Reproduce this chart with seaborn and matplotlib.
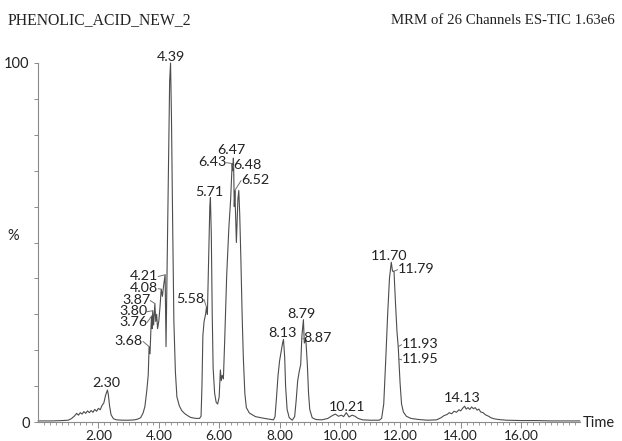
import numpy as np
import pandas as pd
import matplotlib
matplotlib.use("Agg")
import matplotlib.pyplot as plt
import seaborn as sns

# ---- data ----
times = [0.00, 0.50, 0.80, 1.00, 1.10, 1.20, 1.28, 1.34, 1.40, 1.46, 1.52, 1.58, 1.64, 1.70,
         1.76, 1.82, 1.88, 1.94, 2.00, 2.06, 2.12, 2.18, 2.24, 2.30, 2.33, 2.37, 2.42, 2.50,
         2.60, 2.80, 3.00, 3.20, 3.30, 3.40, 3.48, 3.54, 3.60, 3.65, 3.68, 3.71, 3.74, 3.76,
         3.78, 3.80, 3.83, 3.87, 3.90, 3.93, 3.96, 4.00, 4.04, 4.08, 4.12, 4.16, 4.21, 4.24,
         4.27, 4.32, 4.36, 4.39, 4.42, 4.46, 4.50, 4.55, 4.60, 4.68, 4.76, 4.85, 4.95, 5.05,
         5.15, 5.25, 5.35, 5.40, 5.43, 5.46, 5.50, 5.55, 5.58, 5.61, 5.65, 5.69, 5.71, 5.74,
         5.77, 5.80, 5.85, 5.90, 5.95, 6.00, 6.04, 6.07, 6.10, 6.14, 6.18, 6.25, 6.32, 6.38,
         6.43, 6.45, 6.47, 6.48, 6.50, 6.52, 6.57, 6.62, 6.65, 6.68, 6.72, 6.76, 6.80, 6.85,
         6.90, 7.00, 7.20, 7.50, 7.80, 7.85, 7.90, 7.95, 8.00, 8.05, 8.10, 8.13, 8.17, 8.20,
         8.25, 8.32, 8.42, 8.50, 8.55, 8.60, 8.65, 8.70, 8.74, 8.79, 8.82, 8.87, 8.92, 8.96,
         9.00, 9.08, 9.20, 9.40, 9.60, 9.75, 9.85, 9.95, 10.05, 10.12, 10.21, 10.30, 10.40,
         10.50, 10.60, 10.75, 11.00, 11.30, 11.38, 11.45, 11.52, 11.58, 11.64, 11.70, 11.74,
         11.79, 11.84, 11.89, 11.93, 11.95, 11.99, 12.04, 12.10, 12.20, 12.35, 12.60, 12.90,
         13.20, 13.35, 13.45, 13.55, 13.62, 13.70, 13.78, 13.86, 13.94, 14.00, 14.06, 14.13,
         14.18, 14.24, 14.30, 14.36, 14.42, 14.48, 14.54, 14.60, 14.66, 14.74, 14.82, 14.90,
         15.00, 15.10, 15.25, 15.50, 16.00, 16.50, 17.00, 17.50, 17.95]
intensity = [0.3, 0.3, 0.4, 0.5, 0.9, 1.6, 2.4, 1.9, 2.6, 2.2, 2.9, 2.4, 3.1, 2.6,
             3.2, 2.7, 3.5, 3.0, 3.8, 3.4, 4.6, 5.3, 7.5, 8.9, 7.6, 4.5, 2.0, 0.9,
             0.6, 0.5, 0.5, 0.6, 0.8, 1.2, 2.5, 4.3, 8.5, 13.0, 21.0, 19.0, 26.0, 29.5,
             26.0, 31.0, 27.0, 33.0, 28.0, 30.0, 26.0, 28.0, 32.0, 37.0, 35.0, 38.0, 41.0, 21.0,
             40.0, 70.0, 95.0, 100.0, 85.0, 55.0, 28.0, 14.0, 7.0, 4.5, 3.2, 2.4, 1.8, 1.3,
             1.1, 1.0, 1.0, 1.6, 10.0, 24.0, 28.0, 30.0, 32.0, 30.0, 45.0, 60.0, 62.5, 52.0,
             30.0, 15.0, 8.0, 5.5, 5.0, 7.0, 14.5, 11.5, 13.0, 12.0, 22.0, 41.0, 54.0, 62.0,
             72.0, 70.0, 73.5, 71.0, 60.0, 64.5, 50.0, 62.0, 64.5, 58.0, 45.0, 30.0, 18.0, 8.0,
             4.0, 2.5, 1.5, 1.0, 0.6, 1.5, 7.0, 13.0, 17.0, 19.5, 22.0, 23.0, 18.0, 10.0,
             3.5, 1.2, 0.5, 1.5, 6.0, 11.5, 14.0, 16.0, 24.0, 28.5, 22.0, 23.0, 16.0, 8.0,
             3.5, 1.2, 0.7, 0.6, 1.0, 1.8, 2.2, 1.6, 1.9, 1.5, 2.6, 1.4, 1.9,
             1.6, 1.0, 0.6, 0.5, 0.5, 1.0, 5.0, 18.0, 30.0, 40.0, 44.5, 42.0,
             42.0, 33.0, 25.0, 21.0, 17.5, 11.0, 5.0, 2.8, 1.6, 1.0, 0.7, 0.5,
             0.6, 1.2, 1.8, 2.1, 2.6, 2.3, 3.0, 2.7, 3.4, 3.1, 3.8, 4.4,
             3.6, 4.0, 3.5, 4.2, 3.7, 4.0, 3.3, 3.6, 2.8, 2.6, 2.0, 1.7,
             1.2, 0.9, 0.7, 0.5, 0.4, 0.4, 0.3, 0.3, 0.3]

peak_labels = ["2.30", "3.68", "3.76", "3.80", "3.87", "4.08", "4.21", "4.39", "5.58",
               "5.71", "6.43", "6.47", "6.48", "6.52", "8.13", "8.79", "8.87", "10.21",
               "11.70", "11.79", "11.93", "11.95", "14.13"]
x_tick_labels = ["2.00", "4.00", "6.00", "8.00", "10.00", "12.00", "14.00", "16.00"]
title_left = "PHENOLIC_ACID_NEW_2"
title_right = "MRM of 26 Channels ES-TIC 1.63e6"

# ---- layout: label text positions (data coords) and leader side (None = no leader) ----
label_text_pos = {
    "2.30": (2.25, 10.9, None), "3.68": (3.01, 22.6, "L"), "3.76": (3.15, 27.9, "L"),
    "3.80": (3.15, 30.9, "L"), "3.87": (3.25, 34.0, "L"), "4.08": (3.51, 37.3, "L"),
    "4.21": (3.51, 40.7, "L"), "4.39": (4.40, 101.6, None), "5.58": (5.03, 34.3, "L"),
    "5.71": (5.66, 64.0, None), "6.43": (5.76, 72.4, "L"), "6.47": (6.42, 75.9, None),
    "6.48": (6.92, 71.6, "R"), "6.52": (7.19, 67.4, "R"), "8.13": (8.08, 24.8, None),
    "8.79": (8.71, 30.1, None), "8.87": (9.24, 23.4, "R"), "10.21": (10.23, 4.3, None),
    "11.70": (11.62, 46.2, None), "11.79": (12.52, 42.6, "R"), "11.93": (12.65, 21.7, "R"),
    "11.95": (12.65, 17.5, "R"), "14.13": (14.04, 6.8, None),
}

df = pd.DataFrame({"Time": times, "Intensity": intensity})

sns.set_theme(style="white")
plt.rcParams["font.family"] = ["Lato", "DejaVu Sans"]

W, H = 622, 441
fig = plt.figure(figsize=(W / 100, H / 100), dpi=100)
ax_l, ax_r, ax_b, ax_t = 38, 580, 422, 63
ax = fig.add_axes([ax_l / W, 1 - ax_b / H, (ax_r - ax_l) / W, (ax_b - ax_t) / H])

sns.lineplot(data=df, x="Time", y="Intensity", ax=ax, color="#4d4d4d", linewidth=0.8,
             estimator=None, sort=False)
for ln in ax.lines:
    ln.set_clip_on(False)

ax.set_xlim(0, 17.95)
ax.set_ylim(0, 100)
ax.set_xlabel("")
ax.set_ylabel("")

gray = "#8a8a8a"
for s in ["top", "right"]:
    ax.spines[s].set_visible(False)
for s in ["left", "bottom"]:
    ax.spines[s].set_color(gray)
    ax.spines[s].set_linewidth(0.8)

# x ticks
xt = [float(v) for v in x_tick_labels]
ax.set_xticks(xt)
ax.set_xticklabels(x_tick_labels, fontsize=9.8, color="#222222")
ax.set_xticks(np.arange(0.2, 17.95, 0.2), minor=True)
ax.tick_params(axis="x", which="major", length=4, width=0.7, color=gray, pad=2, direction="out", bottom=True)
ax.tick_params(axis="x", which="minor", length=2, width=0.6, color=gray, direction="out", bottom=True)

# y ticks
ax.set_yticks(np.arange(0, 101, 10))
ax.set_yticklabels(["0"] + [""] * 9 + ["100"], fontsize=10.5, color="#222222")
ax.tick_params(axis="y", which="major", length=3, width=0.7, color=gray, pad=3, direction="out", left=True)

ax.text(-0.035, 0.5, "%", transform=ax.transAxes, fontsize=10.5, color="#222222",
        ha="right", va="bottom")
fig.text(583 / W, 1 - 423 / H, "Time", fontsize=10.5, color="#222222", ha="left", va="center")

# headers
fig.text(8 / W, 1 - 20 / H, title_left, family="Liberation Serif", fontsize=11.3,
         color="#222222", ha="left", va="center")
fig.text(615 / W, 1 - 20 / H, title_right, family="Liberation Serif", fontsize=10.7,
         color="#222222", ha="right", va="center")

# peak labels
for lab in peak_labels:
    px = float(lab)
    py = float(np.interp(px, times, intensity))
    tx, ty, side = label_text_pos[lab]
    if side is not None:
        rel = (1.0, 0.45) if side == "L" else (0.0, 0.45)
        ax.annotate(lab, xy=(px, py), xytext=(tx, ty), fontsize=10.3, color="#222222",
                    ha="center", va="center", annotation_clip=False,
                    arrowprops=dict(arrowstyle="-", color="#707070", lw=0.7,
                                    relpos=rel, shrinkA=0, shrinkB=0,
                                    patchA=None))
    else:
        ax.text(tx, ty, lab, fontsize=10.3, color="#222222", ha="center", va="center",
                clip_on=False)

fig.savefig("out.png", dpi=100)
